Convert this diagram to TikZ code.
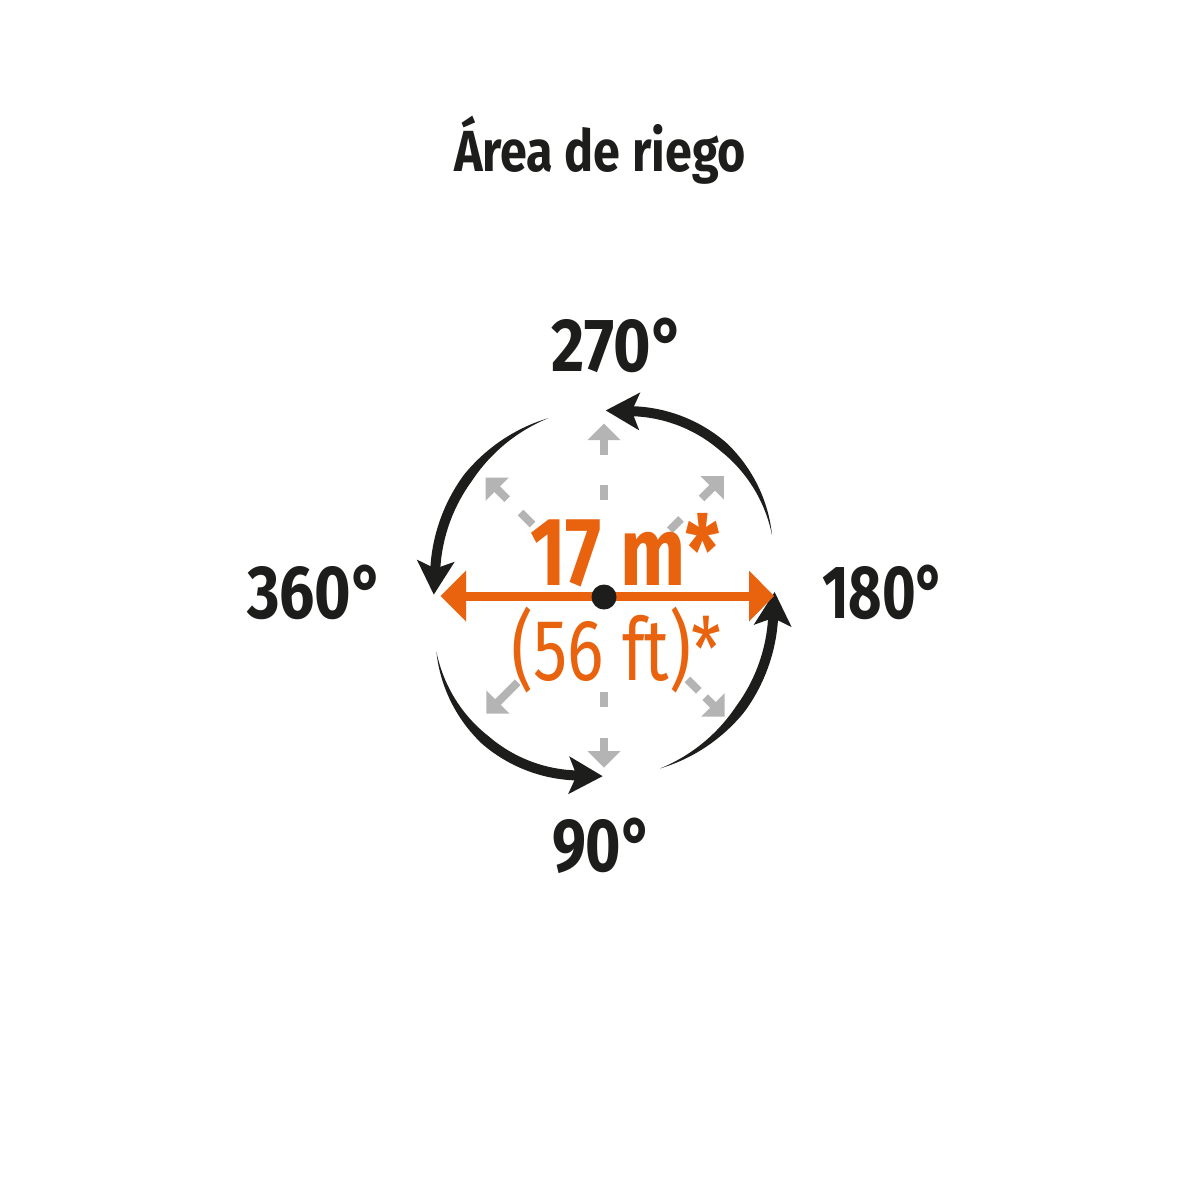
\documentclass[tikz,border=0pt]{standalone}
\usepackage{fontspec}
\usepackage{graphicx}
\setmainfont{Fira Sans}
\newfontfamily\fbold{Fira Sans Bold}
\newfontfamily\freg{Fira Sans}
\definecolor{ink}{RGB}{29,29,27}
\definecolor{orng}{RGB}{233,98,14}
\definecolor{lgray}{RGB}{180,180,180}
\newcommand{\fitw}[2]{\resizebox{#1}{\height}{#2}}
% tapered arc with arrowhead: cx, cy, r, tail angle, notch angle (screen coords, y down)
\newcommand{\sweeparc}[5]{%
  \pgfmathsetmacro{\sAcx}{#1}\pgfmathsetmacro{\sAcy}{#2}\pgfmathsetmacro{\sArad}{#3}%
  \pgfmathsetmacro{\sAta}{#4}\pgfmathsetmacro{\sAna}{#5}%
  \pgfmathsetmacro{\sAea}{\sAna-3/\sArad*57.2958}%
  \pgfmathsetmacro{\sAhl}{0.5*(\sAta-\sAea)}%
  \fill[ink] plot[domain=\sAta:\sAea, samples=60, variable=\t]
      ({\sAcx+(\sArad+5*min(1,(\sAta-\t)/\sAhl))*cos(\t)},{\sAcy+(\sArad+5*min(1,(\sAta-\t)/\sAhl))*sin(\t)})
    -- plot[domain=\sAea:\sAta, samples=60, variable=\t]
      ({\sAcx+(\sArad-5*min(1,(\sAta-\t)/\sAhl))*cos(\t)},{\sAcy+(\sArad-5*min(1,(\sAta-\t)/\sAhl))*sin(\t)})
    -- cycle;
  \pgfmathsetmacro{\sAnx}{\sAcx+\sArad*cos(\sAna)}\pgfmathsetmacro{\sAny}{\sAcy+\sArad*sin(\sAna)}%
  \pgfmathsetmacro{\sAux}{sin(\sAna)}\pgfmathsetmacro{\sAuy}{-cos(\sAna)}%
  \pgfmathsetmacro{\sAox}{cos(\sAna)}\pgfmathsetmacro{\sAoy}{sin(\sAna)}%
  \fill[ink] ({\sAnx+26*\sAux},{\sAny+26*\sAuy})
    -- ({\sAnx-8*\sAux+19*\sAox},{\sAny-8*\sAuy+19*\sAoy})
    -- (\sAnx,\sAny)
    -- ({\sAnx-8*\sAux-19*\sAox},{\sAny-8*\sAuy-19*\sAoy}) -- cycle;
}
% gray dashed arrow: angle, dash from, dash to, stem from, stem to (head base)
\newcommand{\grayarrow}[5]{%
  \pgfmathsetmacro{\gAc}{cos(#1)}\pgfmathsetmacro{\gAs}{sin(#1)}%
  \ifdim #2pt<#3pt
    \draw[lgray, line width=4pt] ({604+#2*\gAc},{596+#2*\gAs}) -- ({604+#3*\gAc},{596+#3*\gAs});
  \fi
  \draw[lgray, line width=4pt] ({604+#4*\gAc},{596+#4*\gAs}) -- ({604+(#5+1)*\gAc},{596+(#5+1)*\gAs});
  \fill[lgray] ({604+(#5+16.5)*\gAc},{596+(#5+16.5)*\gAs})
    -- ({604+#5*\gAc-16.5*\gAs},{596+#5*\gAs+16.5*\gAc})
    -- ({604+#5*\gAc+16.5*\gAs},{596+#5*\gAs-16.5*\gAc}) -- cycle;
}
\begin{document}
\begin{tikzpicture}[x=0.5pt,y=-0.5pt,
  lbl/.style={anchor=base, inner sep=0pt, text=ink},
  big/.style={anchor=base, inner sep=0pt, text=orng}]
\useasboundingbox (0,0) rectangle (1200,1200);
\fill[white] (0,0) rectangle (1200,1200);

% title
\node[lbl] (title) at (600,171.7) {\fitw{146pt}{\fontsize{29}{32}\selectfont\fbold Área de riego}};

% gray dashed arrows
\grayarrow{-90}{96}{111}{141}{156}
\grayarrow{90}{96}{111}{142}{155}
\grayarrow{-135}{101}{118}{137}{151}
\grayarrow{-45}{93}{109}{138}{153}
\grayarrow{135}{0}{0}{122}{150}
\grayarrow{45}{118}{134}{143}{154}

% black rotation arcs
\sweeparc{627.7}{557.1}{146}{-8.7}{-88.4}
\sweeparc{605}{578.4}{170}{-109.5}{-176.7}
\sweeparc{580.7}{629.5}{146}{171.3}{91.6}
\sweeparc{603.4}{608.2}{170}{70.5}{3.3}

% orange diameter arrow
\coordinate (lt) at (440.7,596);
\coordinate (rt) at (774,596);
\coordinate (lb) at (466,596);
\coordinate (rb) at (749,596);
\draw[orng, line width=4.5pt] (lb) -- (rb);
\fill[orng] (lt) -- (466,570.5) -- (466,621.5) -- cycle;
\fill[orng] (rt) -- (749,570.5) -- (749,621.5) -- cycle;
\node[circle, fill=ink, inner sep=0pt, minimum size=12.5pt] (hub) at (604,597) {};

% orange texts
\node[big] (m17) at (625,585) {\fitw{95pt}{\fontsize{48.6}{50}\selectfont\fbold 17 m*}};
\node[big] (ft56) at (616.5,680) {\fitw{105pt}{\fontsize{43.5}{46}\selectfont\freg (56 ft)*}};

% angle labels
\node[lbl] (a270) at (618,371) {\fitw{66.5pt}{\fontsize{37.7}{40}\selectfont\fbold 270°}};
\node[lbl] (a360) at (315.5,618) {\fitw{68.5pt}{\fontsize{37.7}{40}\selectfont\fbold 360°}};
\node[lbl] (a180) at (884,618) {\fitw{62pt}{\fontsize{37.7}{40}\selectfont\fbold 180°}};
\node[lbl] (a90) at (602.5,871) {\fitw{50.5pt}{\fontsize{37.7}{40}\selectfont\fbold 90°}};
\end{tikzpicture}
\end{document}
